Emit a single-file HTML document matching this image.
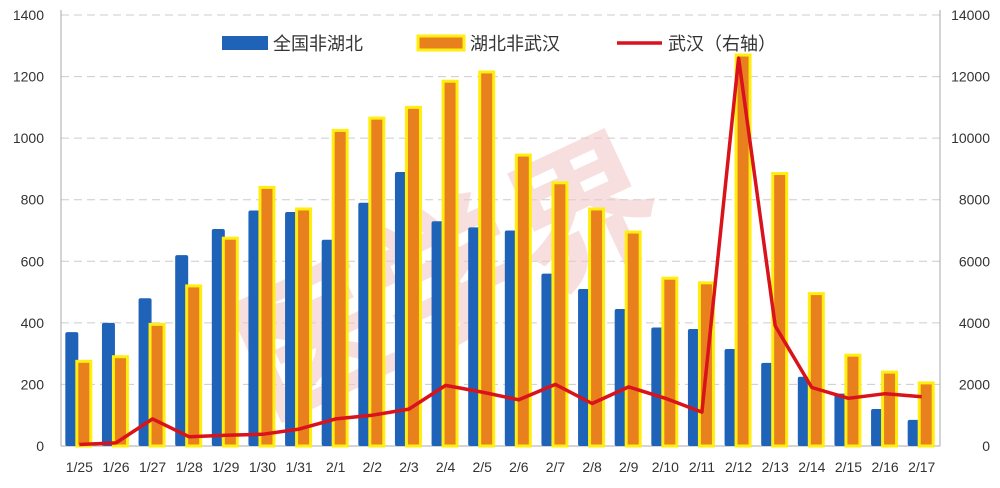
<!DOCTYPE html>
<html><head><meta charset="utf-8"><style>
html,body{margin:0;padding:0;background:#fff;width:1000px;height:488px;overflow:hidden}
svg text{font-family:"Liberation Sans","Noto Sans CJK SC",sans-serif;fill:#333}
</style></head><body>
<svg id="c" width="1000" height="488" xmlns="http://www.w3.org/2000/svg"></svg>
<script>
const s=document.getElementById('c');let h='';
const L=61,R=940,Y0=446,k=431/1400;
const labs=['1/25','1/26','1/27','1/28','1/29','1/30','1/31','2/1','2/2','2/3','2/4','2/5','2/6','2/7','2/8','2/9','2/10','2/11','2/12','2/13','2/14','2/15','2/16','2/17'];
const B=[370,400,480,620,705,765,760,670,790,890,730,710,700,560,510,445,385,380,315,270,225,170,120,85];
const O=[275,290,395,520,675,840,770,1025,1065,1100,1185,1215,945,855,770,695,545,530,1270,885,495,295,240,205];
const W=[50,100,880,300,350,380,550,880,1000,1200,1970,1750,1500,2000,1380,1920,1550,1100,12600,3900,1900,1550,1700,1600];
for(let i=0;i<=7;i++){const y=Y0-i*200*k;
 if(i>0)h+=`<line x1="${L}" x2="${R}" y1="${y}" y2="${y}" stroke="#ccc" stroke-dasharray="8,5"/>`;
 h+=`<text x="44" y="${y+5}" font-size="14" text-anchor="end">${i*200}</text>`;
 h+=`<text x="990" y="${y+5}" font-size="14" text-anchor="end">${i*2000}</text>`;}
h+=`<line x1="${L}" x2="${L}" y1="10" y2="${Y0}" stroke="#aaa"/><line x1="${R}" x2="${R}" y1="10" y2="${Y0}" stroke="#aaa"/><line x1="${L}" x2="${R}" y1="${Y0}" y2="${Y0}" stroke="#aaa"/>`;
// watermark
h+=`<text x="450" y="330" font-size="150" font-weight="bold" transform="rotate(-25 450 280)" style="fill:#f4c6c6;opacity:.55" text-anchor="middle">医学界</text>`;
const cw=(R-L)/24;let pts=[];
for(let i=0;i<24;i++){const c=L+cw*(i+0.5);
 const bh=B[i]*k;h+=`<rect x="${c-14}" y="${Y0-bh}" width="13" height="${bh}" rx="2" fill="#1f63b8"/>`;
 const oh=O[i]*k;h+=`<rect x="${c-2.5}" y="${Y0-oh}" width="14" height="${oh}" fill="#e8801e" stroke="#ffee10" stroke-width="3"/>`;
 h+=`<text x="${c}" y="472" font-size="14" text-anchor="middle">${labs[i]}</text>`;
 pts.push(`${c.toFixed(1)},${(Y0-W[i]*k/10).toFixed(1)}`);}
h+=`<polyline points="${pts.join(' ')}" fill="none" stroke="#d9121b" stroke-width="3.5" stroke-linejoin="round"/>`;
// legend
h+=`<rect x="222" y="36" width="46" height="14" fill="#1f63b8"/><text x="273" y="50" font-size="18">全国非湖北</text>`;
h+=`<rect x="418" y="36" width="46" height="14" fill="#e8801e" stroke="#ffee10" stroke-width="3"/><text x="470" y="50" font-size="18">湖北非武汉</text>`;
h+=`<line x1="617" x2="662" y1="43" y2="43" stroke="#d9121b" stroke-width="3.5"/><text x="668" y="50" font-size="18">武汉（右轴）</text>`;
s.innerHTML=h;
</script>
</body></html>
